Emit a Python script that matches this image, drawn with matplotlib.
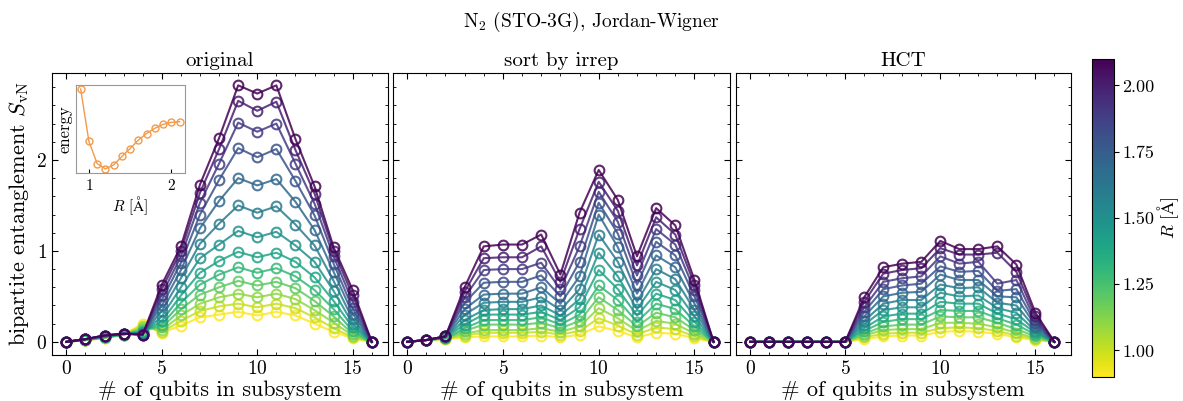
"""N2 (STO-3G) bipartite entanglement for three orbital orderings."""

import matplotlib

matplotlib.use("Agg")
import matplotlib.pyplot as plt
import numpy as np
from matplotlib import cm, colors

# bond lengths R [Å]
bond_lengths = [0.9, 1.0, 1.1, 1.2, 1.3, 1.4, 1.5, 1.6, 1.7, 1.8, 1.9, 2.0, 2.1]
qubits = list(range(17))

# ground-state energy per bond length (inset), Hartree
energy = [-107.04, -107.44, -107.61, -107.65, -107.62, -107.555, -107.495,
          -107.43, -107.38, -107.34, -107.31, -107.295, -107.29]

# entanglement S_vN, one row per bond length (same order as bond_lengths)
s_original = [
    [0, 0.02, 0.04, 0.08, 0.20, 0.10, 0.18, 0.27, 0.30, 0.33, 0.29, 0.33, 0.29, 0.20, 0.11, 0.04, 0],
    [0, 0.02, 0.04, 0.08, 0.18, 0.11, 0.23, 0.34, 0.39, 0.42, 0.38, 0.42, 0.37, 0.27, 0.15, 0.05, 0],
    [0, 0.02, 0.05, 0.08, 0.16, 0.13, 0.29, 0.42, 0.49, 0.53, 0.49, 0.53, 0.47, 0.35, 0.21, 0.07, 0],
    [0, 0.02, 0.05, 0.08, 0.14, 0.16, 0.36, 0.52, 0.60, 0.67, 0.62, 0.66, 0.59, 0.45, 0.28, 0.09, 0],
    [0, 0.02, 0.05, 0.08, 0.12, 0.19, 0.43, 0.63, 0.74, 0.82, 0.76, 0.81, 0.72, 0.57, 0.36, 0.12, 0],
    [0, 0.03, 0.05, 0.09, 0.11, 0.23, 0.51, 0.76, 0.89, 0.99, 0.93, 0.98, 0.88, 0.71, 0.45, 0.16, 0],
    [0, 0.03, 0.06, 0.09, 0.10, 0.28, 0.60, 0.92, 1.07, 1.22, 1.15, 1.21, 1.06, 0.88, 0.56, 0.20, 0],
    [0, 0.03, 0.06, 0.09, 0.09, 0.34, 0.70, 1.08, 1.30, 1.50, 1.42, 1.49, 1.29, 1.06, 0.67, 0.25, 0],
    [0, 0.03, 0.06, 0.09, 0.09, 0.40, 0.79, 1.25, 1.55, 1.80, 1.72, 1.79, 1.54, 1.23, 0.77, 0.31, 0],
    [0, 0.03, 0.07, 0.09, 0.08, 0.46, 0.87, 1.40, 1.78, 2.13, 2.03, 2.12, 1.77, 1.39, 0.86, 0.37, 0],
    [0, 0.03, 0.07, 0.09, 0.08, 0.52, 0.94, 1.53, 1.96, 2.41, 2.31, 2.40, 1.96, 1.52, 0.94, 0.44, 0],
    [0, 0.03, 0.07, 0.09, 0.08, 0.58, 1.00, 1.64, 2.12, 2.65, 2.54, 2.64, 2.11, 1.63, 1.00, 0.51, 0],
    [0, 0.03, 0.07, 0.09, 0.08, 0.63, 1.05, 1.73, 2.24, 2.82, 2.73, 2.82, 2.23, 1.71, 1.04, 0.57, 0],
]

s_irrep = [
    [0, 0.02, 0.03, 0.05, 0.06, 0.06, 0.06, 0.07, 0.05, 0.08, 0.17, 0.12, 0.05, 0.10, 0.09, 0.04, 0],
    [0, 0.02, 0.03, 0.07, 0.10, 0.10, 0.10, 0.11, 0.08, 0.12, 0.26, 0.18, 0.08, 0.16, 0.14, 0.06, 0],
    [0, 0.02, 0.04, 0.09, 0.13, 0.13, 0.13, 0.15, 0.11, 0.17, 0.37, 0.26, 0.12, 0.23, 0.20, 0.09, 0],
    [0, 0.02, 0.04, 0.12, 0.19, 0.19, 0.19, 0.21, 0.15, 0.23, 0.49, 0.35, 0.17, 0.32, 0.27, 0.13, 0],
    [0, 0.02, 0.04, 0.15, 0.24, 0.24, 0.24, 0.27, 0.19, 0.30, 0.62, 0.46, 0.22, 0.42, 0.36, 0.17, 0],
    [0, 0.02, 0.05, 0.19, 0.30, 0.30, 0.30, 0.33, 0.24, 0.38, 0.79, 0.58, 0.29, 0.53, 0.46, 0.22, 0],
    [0, 0.02, 0.05, 0.24, 0.35, 0.36, 0.36, 0.40, 0.29, 0.47, 0.98, 0.72, 0.36, 0.66, 0.57, 0.28, 0],
    [0, 0.02, 0.05, 0.30, 0.43, 0.44, 0.44, 0.49, 0.35, 0.58, 1.18, 0.88, 0.44, 0.80, 0.69, 0.35, 0],
    [0, 0.02, 0.06, 0.36, 0.52, 0.53, 0.53, 0.60, 0.42, 0.72, 1.40, 1.04, 0.53, 0.95, 0.82, 0.42, 0],
    [0, 0.02, 0.06, 0.43, 0.65, 0.66, 0.66, 0.73, 0.50, 0.88, 1.53, 1.19, 0.63, 1.10, 0.95, 0.50, 0],
    [0, 0.02, 0.06, 0.49, 0.79, 0.80, 0.80, 0.87, 0.58, 1.05, 1.65, 1.32, 0.73, 1.24, 1.07, 0.57, 0],
    [0, 0.02, 0.06, 0.55, 0.92, 0.93, 0.93, 1.05, 0.66, 1.24, 1.76, 1.44, 0.84, 1.37, 1.18, 0.63, 0],
    [0, 0.02, 0.06, 0.60, 1.05, 1.07, 1.07, 1.18, 0.74, 1.42, 1.89, 1.56, 0.94, 1.47, 1.28, 0.68, 0],
]

s_hct = [
    [0, 0, 0, 0, 0, 0, 0.03, 0.06, 0.07, 0.07, 0.11, 0.12, 0.11, 0.09, 0.05, 0.02, 0],
    [0, 0, 0, 0, 0, 0, 0.05, 0.09, 0.10, 0.10, 0.15, 0.16, 0.15, 0.12, 0.07, 0.03, 0],
    [0, 0, 0, 0, 0, 0, 0.07, 0.13, 0.14, 0.14, 0.21, 0.21, 0.20, 0.16, 0.10, 0.04, 0],
    [0, 0, 0, 0, 0, 0, 0.09, 0.17, 0.19, 0.19, 0.28, 0.27, 0.27, 0.21, 0.14, 0.06, 0],
    [0, 0, 0, 0, 0, 0, 0.12, 0.22, 0.25, 0.25, 0.35, 0.34, 0.34, 0.26, 0.19, 0.08, 0],
    [0, 0, 0, 0, 0, 0, 0.15, 0.28, 0.31, 0.31, 0.44, 0.42, 0.42, 0.31, 0.25, 0.10, 0],
    [0, 0, 0, 0, 0, 0, 0.19, 0.35, 0.38, 0.38, 0.54, 0.50, 0.51, 0.37, 0.32, 0.12, 0],
    [0, 0, 0, 0, 0, 0, 0.23, 0.42, 0.46, 0.46, 0.63, 0.59, 0.60, 0.43, 0.40, 0.15, 0],
    [0, 0, 0, 0, 0, 0, 0.28, 0.50, 0.54, 0.55, 0.74, 0.68, 0.68, 0.50, 0.49, 0.18, 0],
    [0, 0, 0, 0, 0, 0, 0.33, 0.58, 0.62, 0.64, 0.83, 0.77, 0.78, 0.56, 0.58, 0.21, 0],
    [0, 0, 0, 0, 0, 0, 0.38, 0.66, 0.70, 0.72, 0.94, 0.86, 0.88, 0.64, 0.68, 0.24, 0],
    [0, 0, 0, 0, 0, 0, 0.44, 0.75, 0.79, 0.81, 1.03, 0.96, 0.96, 0.98, 0.77, 0.28, 0],
    [0, 0, 0, 0, 0, 0, 0.49, 0.82, 0.86, 0.88, 1.11, 1.02, 1.02, 1.05, 0.85, 0.32, 0],
]

panel_titles = ["original", "sort by irrep", "HCT"]
r_label = r"$R$ [$\mathrm{Å}$]"

plt.rcParams["font.family"] = ["cmr10", "DejaVu Serif"]
plt.rcParams["mathtext.fontset"] = "cm"
plt.rcParams["axes.formatter.use_mathtext"] = True
plt.rcParams["axes.unicode_minus"] = False

fig = plt.figure(figsize=(11.83, 4.01), dpi=100)
norm = colors.Normalize(vmin=0.9, vmax=2.1)
cmap = plt.get_cmap("viridis_r")

positions = [
    [0.044, 0.115, 0.284, 0.703],
    [0.332, 0.115, 0.285, 0.703],
    [0.622, 0.115, 0.283, 0.703],
]
axes = []
for pos, title, table in zip(positions, panel_titles, [s_original, s_irrep, s_hct]):
    ax = fig.add_axes(pos)
    for r, row in zip(bond_lengths, table):
        ax.plot(qubits, row, "-o", color=cmap(norm(r)), mfc="none",
                ms=7, mew=1.5, lw=1.5, alpha=0.85)
    ax.set_xlim(-0.75, 16.85)
    ax.set_ylim(-0.143, 2.956)
    ax.set_xticks([0, 5, 10, 15])
    ax.set_yticks([0, 1, 2])
    ax.minorticks_on()
    ax.tick_params(which="both", direction="in", top=True, right=True, labelsize=14)
    ax.tick_params(which="major", length=4)
    ax.tick_params(which="minor", length=2)
    ax.set_title(title, fontsize=15, pad=5)
    ax.set_xlabel("# of qubits in subsystem", fontsize=16, labelpad=2)
    if axes:
        ax.tick_params(labelleft=False)
    axes.append(ax)

axes[0].set_ylabel(r"bipartite entanglement $S_{\mathrm{vN}}$", fontsize=16, labelpad=4)

# inset: potential energy curve
inset = fig.add_axes([0.064, 0.569, 0.092, 0.219])
inset.plot(bond_lengths, energy, "-o", color="#f29a4a", mfc="none", ms=5, mew=1.0, lw=1.0)
inset.set_xticks([1, 2])
inset.set_yticks([])
inset.tick_params(labelsize=11, direction="in", length=3)
inset.set_xlabel(r_label, fontsize=11, labelpad=1)
inset.set_ylabel("energy", fontsize=12, labelpad=2)
for spine in inset.spines.values():
    spine.set_color("#999999")

# colorbar
cax = fig.add_axes([0.923, 0.060, 0.019, 0.793])
sm = cm.ScalarMappable(norm=norm, cmap=cmap)
cbar = fig.colorbar(sm, cax=cax, ticks=[1.0, 1.25, 1.5, 1.75, 2.0], format="%.2f")
cbar.ax.tick_params(labelsize=13, pad=2)
cbar.set_label(r_label, fontsize=13, labelpad=1)

fig.suptitle(r"N$_2$ (STO-3G), Jordan-Wigner", fontsize=14, y=0.975, x=0.5)

fig.savefig("out.png", dpi=100)
